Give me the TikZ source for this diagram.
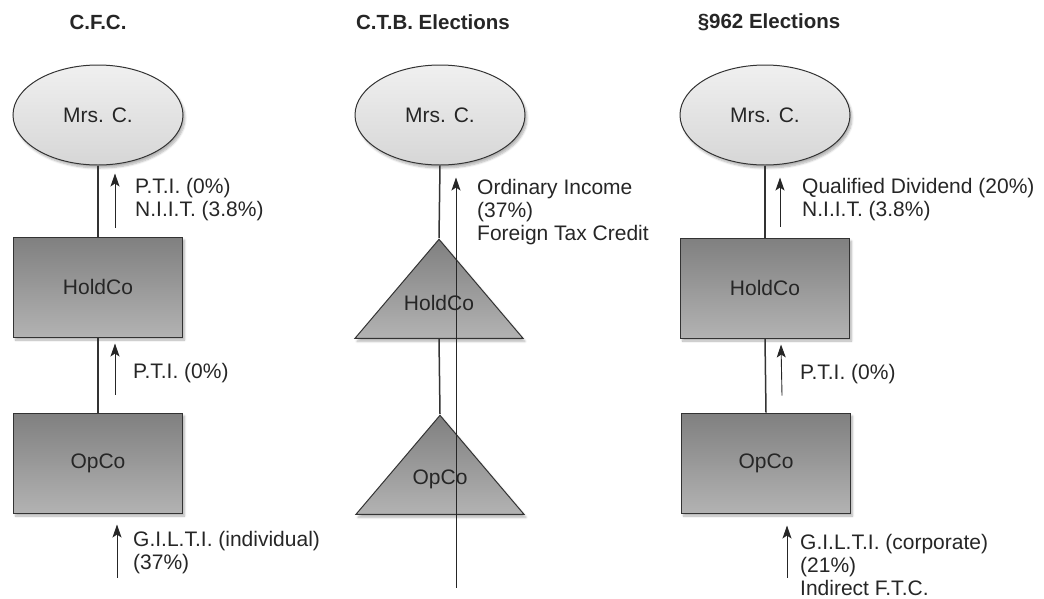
\documentclass[tikz,border=0pt]{standalone}
\usepackage{fontspec}
\setmainfont{Liberation Sans}
\usetikzlibrary{shapes.geometric,shadows.blur,arrows.meta,positioning}
\tikzset{softshadow/.style={blur shadow={shadow blur steps=6,shadow xshift=2pt,shadow yshift=-3pt,shadow opacity=30}},
    person/.style={ellipse,draw=black!80,line width=1pt,minimum width=170pt,minimum height=100pt,
        inner sep=0pt,top color=black!6,bottom color=black!16,softshadow},
    corp/.style={rectangle,draw=black!80,line width=1pt,minimum width=169pt,minimum height=100pt,
        inner sep=0pt,top color=black!50,bottom color=black!30,softshadow},
    hybrid/.style={isosceles triangle,shape border rotate=90,isosceles triangle stretches,
        minimum width=168pt,minimum height=99pt,inner sep=0pt,draw=black!80,line width=1pt,
        top color=black!50,bottom color=black!30,softshadow},
    tritext/.style={anchor=center,yshift=-65pt},
    conn/.style={draw=black!80,line width=1.5pt},
    flow/.style={-{Stealth[length=13pt,width=9pt,inset=3pt]},line width=0.9pt,black!85},
    lbl/.style={anchor=west,align=left,inner sep=0pt,font=\fontsize{21}{23}\selectfont,text=black!85},
    heading/.style={font=\fontsize{20.5}{23}\selectfont\bfseries,text=black!85},
    every node/.style={font=\fontsize{21}{23}\selectfont,text=black!85}}

\begin{document}
\begin{tikzpicture}[x=1pt,y=-1pt]
\useasboundingbox (0,0) rectangle (1044,598);

\node[heading] (t1) at (98,22) {C.F.C.};
\node[heading] (t2) at (433,22) {C.T.B. Elections};
\node[heading] (t3) at (769,22) {\S962 Elections};

\node[person] (mrs1) at (98,115) {Mrs. C.};
\node[corp] (hold1) at (98,287) {HoldCo};
\node[corp] (op1) at (98,463) {OpCo};
\draw[conn] (mrs1.south) -- (hold1.north);
\draw[conn] (hold1.south) -- (op1.north);

\node[person] (mrs2) at (440,115) {Mrs. C.};
\node[hybrid,anchor=north,label={[tritext]north:HoldCo}] (hold2) at (439,238) {};
\node[hybrid,anchor=north,label={[tritext]north:OpCo}] (op2) at (440,414) {};
\draw[conn] (mrs2.south) -- (hold2.north);
\draw[conn] (hold2.south) -- (op2.north);

\node[person] (mrs3) at (765,115) {Mrs. C.};
\node[corp] (hold3) at (765,288) {HoldCo};
\node[corp] (op3) at (766,463) {OpCo};
\draw[conn] (mrs3.south) -- (hold3.north);
\draw[conn] (hold3.south) -- (op3.north);

\draw[flow] ([xshift=17pt,yshift=9pt]hold1.north) -- ([xshift=17pt,yshift=-8pt]mrs1.south);
\draw[flow] ([xshift=17pt,yshift=18pt]op1.north) -- ([xshift=17pt,yshift=-6pt]hold1.south);
\draw[flow] ([xshift=19pt,yshift=-64pt]op1.south) -- ([xshift=19pt,yshift=-11pt]op1.south);
\node[lbl] (l1) at (135,199.5) {P.T.I. (0\%)\\N.I.I.T. (3.8\%)};
\node[lbl] (l2) at (133,373) {P.T.I. (0\%)};
\node[lbl] (l3) at (133,553) {G.I.L.T.I. (individual)\\(37\%)};

\draw[flow] ([xshift=16pt,yshift=-73pt]op2.south) -- ([xshift=16pt,yshift=-12pt]mrs2.south);
\node[lbl] (l4) at (477,212) {Ordinary Income\\(37\%)\\Foreign Tax Credit};

\draw[flow] ([xshift=15pt,yshift=11pt]hold3.north) -- ([xshift=15pt,yshift=-12pt]mrs3.south);
\draw[flow] ([xshift=16pt,yshift=17pt]op3.north) -- ([xshift=16pt,yshift=-6pt]hold3.south);
\draw[flow] ([xshift=21pt,yshift=-64pt]op3.south) -- ([xshift=21pt,yshift=-12pt]op3.south);
\node[lbl] (l5) at (802,199.5) {Qualified Dividend (20\%)\\N.I.I.T. (3.8\%)};
\node[lbl] (l6) at (800,374) {P.T.I. (0\%)};
\node[lbl] (l7) at (800,565) {G.I.L.T.I. (corporate)\\(21\%)\\Indirect F.T.C.};
\end{tikzpicture}
\end{document}
